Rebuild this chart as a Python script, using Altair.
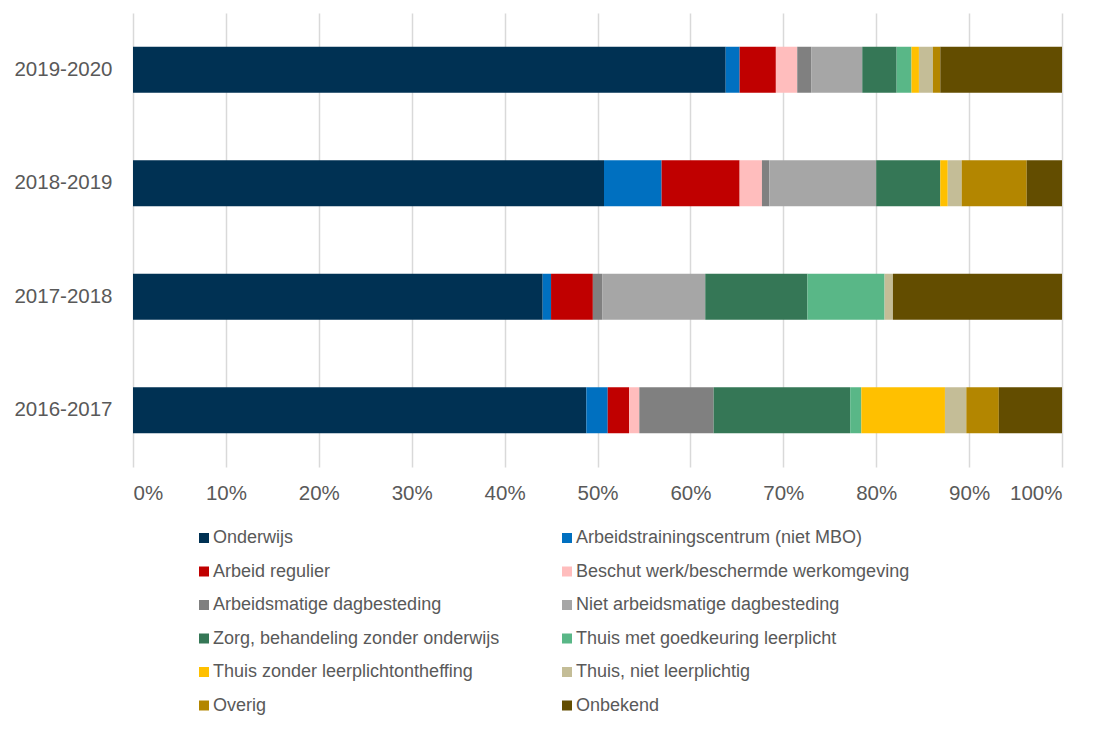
import altair as alt
import pandas as pd

years = ["2019-2020", "2018-2019", "2017-2018", "2016-2017"]

series = [
    "Onderwijs",
    "Arbeidstrainingscentrum (niet MBO)",
    "Arbeid regulier",
    "Beschut werk/beschermde werkomgeving",
    "Arbeidsmatige dagbesteding",
    "Niet arbeidsmatige dagbesteding",
    "Zorg, behandeling zonder onderwijs",
    "Thuis met goedkeuring leerplicht",
    "Thuis zonder leerplichtontheffing",
    "Thuis, niet leerplichtig",
    "Overig",
    "Onbekend",
]

colors = [
    "#003153", "#0070C0", "#C00000", "#FFBDBD", "#808080", "#A6A6A6",
    "#357756", "#59B787", "#FFC000", "#C4BD97", "#B38600", "#634D00",
]

v_2019_2020 = [63.8, 1.5, 3.9, 2.3, 1.5, 5.5, 3.7, 1.6, 0.8, 1.5, 0.8, 13.1]
v_2018_2019 = [50.7, 6.2, 8.4, 2.4, 0.8, 11.5, 6.9, 0.0, 0.8, 1.5, 7.0, 3.8]
v_2017_2018 = [44.1, 0.9, 4.5, 0.0, 1.0, 11.1, 11.0, 8.3, 0.0, 0.9, 0.0, 18.2]
v_2016_2017 = [48.8, 2.3, 2.3, 1.1, 8.0, 0.0, 14.7, 1.2, 9.0, 2.3, 3.5, 6.8]

values = [v_2019_2020, v_2018_2019, v_2017_2018, v_2016_2017]

rows = []
for y, vals in zip(years, values):
    for i, (s, v) in enumerate(zip(series, vals)):
        rows.append({"jaar": y, "categorie": s, "waarde": v, "idx": i})
df = pd.DataFrame(rows)

chart = (
    alt.Chart(df)
    .mark_bar(size=46)
    .encode(
        y=alt.Y(
            "jaar:N",
            sort=years,
            title=None,
            scale=alt.Scale(paddingInner=0.6, paddingOuter=0.3),
            axis=alt.Axis(
                labelFontSize=20.5,
                labelColor="#595959",
                labelFont="Liberation Sans",
                labelPadding=21,
                ticks=False,
                domain=False,
                grid=False,
            ),
        ),
        x=alt.X(
            "waarde:Q",
            stack="normalize",
            title=None,
            scale=alt.Scale(domain=[0, 1], nice=False),
            axis=alt.Axis(
                values=[i / 10 for i in range(11)],
                format=".0%",
                labelFontSize=20.5,
                labelColor="#595959",
                labelFont="Liberation Sans",
                labelPadding=16,
                ticks=False,
                domain=False,
                grid=True,
                gridColor="#D9D9D9",
                gridWidth=1.5,
            ),
        ),
        color=alt.Color(
            "categorie:N",
            sort=series,
            scale=alt.Scale(domain=series, range=colors),
            legend=alt.Legend(
                title=None,
                orient="none",
                direction="horizontal",
                legendX=62,
                legendY=516,
                columns=2,
                columnPadding=58,
                rowPadding=15.5,
                symbolType="square",
                symbolSize=100,
                symbolStrokeWidth=0,
                labelFontSize=18,
                labelColor="#595959",
                labelFont="Liberation Sans",
                labelOffset=0,
                labelLimit=420,
            ),
        ),
        order=alt.Order("idx:Q", sort="ascending"),
        tooltip=["jaar", "categorie", "waarde"],
    )
    .properties(
        width=929,
        height=454,
        autosize=alt.AutoSizeParams(type="none"),
        padding={"left": 125, "top": 5, "right": 20, "bottom": 255},
    )
    .configure_view(stroke=None)
)

chart.save("out.html", embed_options={"renderer": "svg", "actions": False})
